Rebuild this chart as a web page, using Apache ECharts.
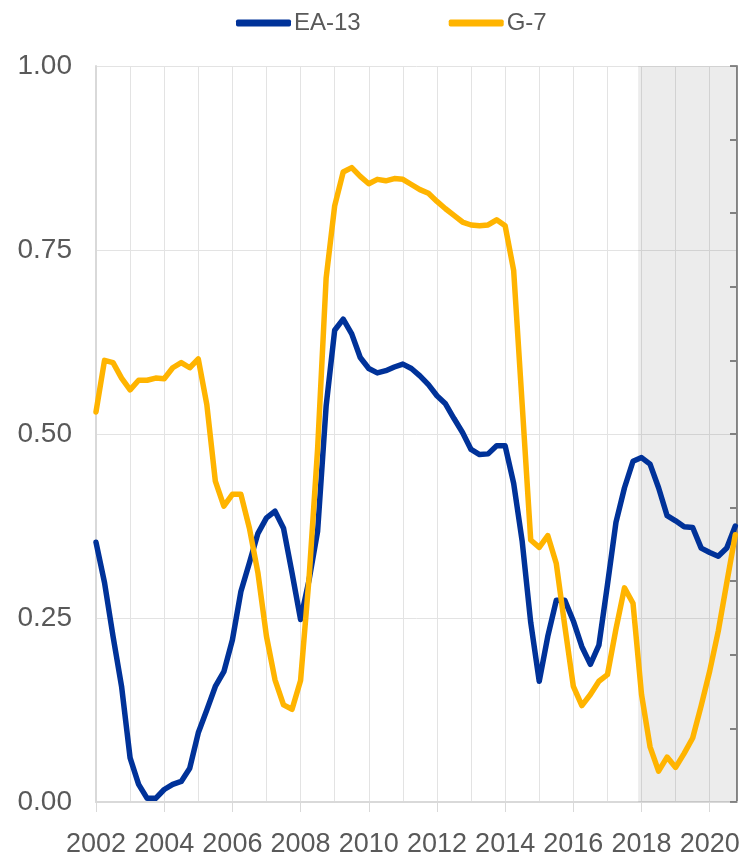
<!DOCTYPE html>
<html>
<head>
<meta charset="utf-8">
<script src="https://cdn.jsdelivr.net/npm/echarts@6/dist/echarts.min.js"></script>
<style>
html,body{margin:0;padding:0;background:#fff;}
#chart{width:745px;height:859px;}
</style>
</head>
<body>
<div id="chart"></div>
<script>
// Quarterly observations, 2002 Q1 to 2020 Q4
const firstYear = 2002;
const periodsPerYear = 4;
const seriesNames = ['EA-13', 'G-7'];
const ea13 = [
  0.353, 0.298, 0.225, 0.157, 0.060, 0.024, 0.005, 0.005,
  0.017, 0.024, 0.028, 0.046, 0.094, 0.125, 0.157, 0.177,
  0.220, 0.286, 0.325, 0.365, 0.386, 0.395, 0.372, 0.311,
  0.248, 0.302, 0.368, 0.538, 0.641, 0.656, 0.636, 0.604,
  0.589, 0.583, 0.586, 0.591, 0.595, 0.589, 0.579, 0.567,
  0.552, 0.541, 0.521, 0.502, 0.479, 0.472, 0.473, 0.484,
  0.484, 0.433, 0.354, 0.244, 0.164, 0.225, 0.274, 0.274,
  0.246, 0.211, 0.187, 0.213, 0.295, 0.380, 0.427, 0.463,
  0.468, 0.459, 0.427, 0.389, 0.382, 0.374, 0.373, 0.345,
  0.339, 0.334, 0.345, 0.375
];
const g7 = [
  0.530, 0.600, 0.597, 0.576, 0.560, 0.573, 0.573, 0.576,
  0.575, 0.590, 0.597, 0.590, 0.602, 0.540, 0.436, 0.402,
  0.418, 0.418, 0.372, 0.311, 0.225, 0.166, 0.132, 0.126,
  0.165, 0.305, 0.480, 0.712, 0.810, 0.856, 0.862, 0.850,
  0.840, 0.846, 0.844, 0.847, 0.846, 0.839, 0.832, 0.827,
  0.816, 0.806, 0.797, 0.788, 0.784, 0.783, 0.784, 0.791,
  0.783, 0.722, 0.540, 0.356, 0.346, 0.362, 0.324, 0.239,
  0.157, 0.131, 0.146, 0.164, 0.173, 0.235, 0.291, 0.270,
  0.146, 0.075, 0.042, 0.061, 0.047, 0.066, 0.087, 0.131,
  0.178, 0.232, 0.298, 0.363
];
const xMin = 2002;
const xMax = 2020.8;
const shadeFrom = 2017.9;
const yTicks = [0, 0.25, 0.5, 0.75, 1];

const colors = ['#003299', '#FFB400'];
const textColor = '#595959';
const font = "'Liberation Sans Narrow','Arial Narrow','Liberation Sans',Arial,sans-serif";

const toPairs = arr => arr.map((v, i) => [firstYear + i / periodsPerYear, v]);

const chart = echarts.init(document.getElementById('chart'), null, {renderer: 'canvas'});
chart.setOption({
  animation: false,
  backgroundColor: '#ffffff',
  textStyle: {fontFamily: font},
  legend: {
    data: seriesNames,
    left: 236,
    top: 11,
    padding: 0,
    icon: 'roundRect',
    itemWidth: 55,
    itemHeight: 7,
    itemGap: 88,
    textStyle: {fontFamily: font, fontSize: 24, color: textColor, padding: [0, 0, 0, -2]}
  },
  grid: {left: 96, right: 8, top: 66, bottom: 57, containLabel: false},
  xAxis: [
    {
      type: 'value', min: xMin, max: xMax, interval: 1,
      axisLine: {show: true, lineStyle: {color: '#d9d9d9', width: 2}},
      axisTick: {show: false},
      axisLabel: {show: false},
      splitLine: {show: true, lineStyle: {color: '#e3e3e3', width: 1}}
    },
    {
      type: 'value', min: xMin, max: xMax, interval: 2, position: 'bottom',
      axisLine: {show: false},
      axisTick: {show: true, length: 10, lineStyle: {color: '#d9d9d9', width: 1}},
      axisLabel: {
        show: true, margin: 29, fontFamily: font, fontSize: 27, color: textColor,
        showMinLabel: true, showMaxLabel: false, hideOverlap: false,
        formatter: v => (Number.isInteger(v) ? String(v) : '')
      },
      splitLine: {show: false}
    }
  ],
  yAxis: [
    {
      type: 'value', min: yTicks[0], max: yTicks[yTicks.length - 1], interval: 0.25,
      axisLine: {show: true, lineStyle: {color: '#d9d9d9', width: 2}},
      axisTick: {show: false},
      axisLabel: {margin: 24, fontFamily: font, fontSize: 28, color: textColor, formatter: v => v.toFixed(2)},
      splitLine: {show: true, lineStyle: {color: '#e3e3e3', width: 1}}
    },
    {
      type: 'value', min: 0, max: 1, interval: 0.1, position: 'right',
      axisLine: {show: true, lineStyle: {color: '#8c8c8c', width: 2}},
      axisTick: {show: true, inside: true, length: 7, lineStyle: {color: '#8c8c8c', width: 2}},
      axisLabel: {show: false},
      splitLine: {show: false}
    }
  ],
  series: [
    {
      name: 'shade', type: 'line', data: [], xAxisIndex: 0, yAxisIndex: 0, z: 1,
      silent: true,
      markArea: {
        silent: true,
        itemStyle: {color: 'rgba(0,0,0,0.075)'},
        data: [[{xAxis: shadeFrom}, {xAxis: xMax}]]
      }
    },
    {
      name: seriesNames[0], type: 'line', data: toPairs(ea13), xAxisIndex: 0, yAxisIndex: 0,
      showSymbol: false, symbol: 'none', z: 3,
      lineStyle: {color: colors[0], width: 5.5, join: 'round', cap: 'round'},
      itemStyle: {color: colors[0]}
    },
    {
      name: seriesNames[1], type: 'line', data: toPairs(g7), xAxisIndex: 0, yAxisIndex: 0,
      showSymbol: false, symbol: 'none', z: 4,
      lineStyle: {color: colors[1], width: 5.5, join: 'round', cap: 'round'},
      itemStyle: {color: colors[1]}
    }
  ]
});
</script>
</body>
</html>
